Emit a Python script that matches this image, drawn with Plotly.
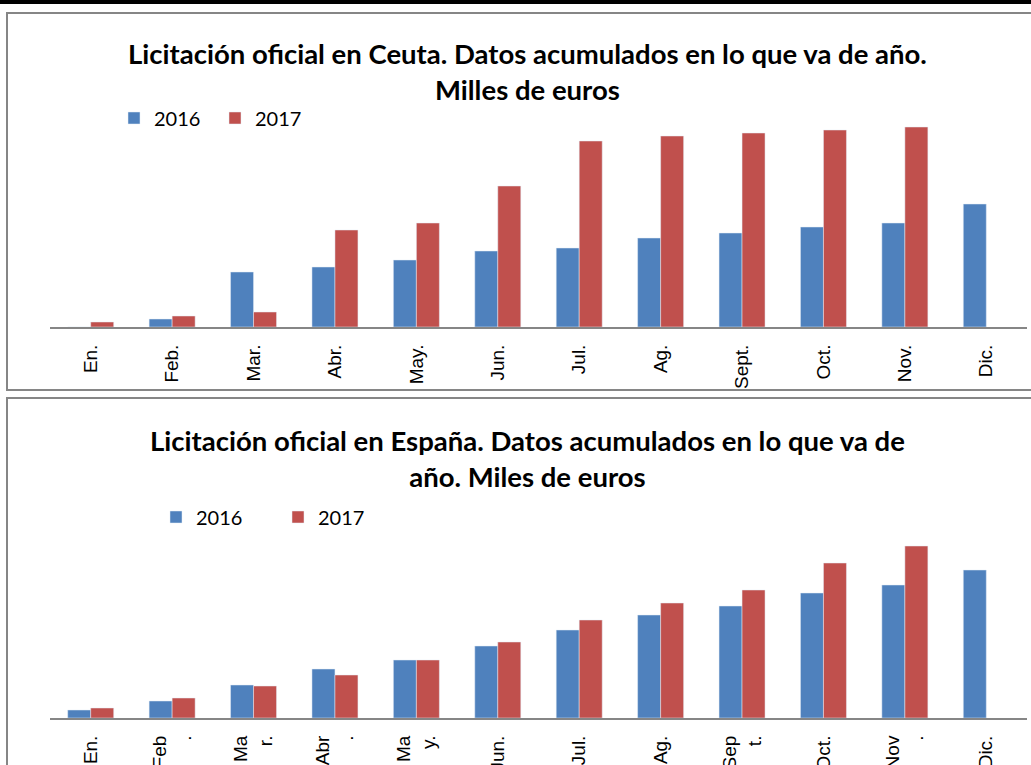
import plotly.graph_objects as go

months = ["En.", "Feb.", "Mar.", "Abr.", "May.", "Jun.", "Jul.", "Ag.", "Sept.", "Oct.", "Nov.", "Dic."]
esp_labels = ["En.", "Feb<br>.", "Ma<br>r.", "Abr<br>.", "Ma<br>y.", "Jun.", "Jul.", "Ag.", "Sep<br>t.", "Oct.", "Nov<br>.", "Dic."]

ceuta_2016 = [0, 8, 55, 60, 67, 76, 79, 89, 94, 100, 104, 123]
ceuta_2017 = [5, 11, 15, 97, 104, 141, 186, 191, 194, 197, 200, None]

esp_2016 = [8, 17, 33, 49, 58, 72, 88, 103, 112, 125, 133, 148]
esp_2017 = [10, 20, 32, 43, 58, 76, 98, 115, 128, 155, 172, None]

W, H = 1031, 765
BLUE = "#4F81BD"
RED = "#C0504D"
GRID = "#868686"


def py(p):
    return 1 - p / H


def px(p):
    return p / W


fig = go.Figure()
fig.add_trace(go.Bar(x=months, y=ceuta_2016, name="2016", marker_color=BLUE,
                     xaxis="x", yaxis="y", legend="legend"))
fig.add_trace(go.Bar(x=months, y=ceuta_2017, name="2017", marker_color=RED,
                     xaxis="x", yaxis="y", legend="legend"))
fig.add_trace(go.Bar(x=months, y=esp_2016, name="2016", marker_color=BLUE,
                     xaxis="x2", yaxis="y2", legend="legend2"))
fig.add_trace(go.Bar(x=months, y=esp_2017, name="2017", marker_color=RED,
                     xaxis="x2", yaxis="y2", legend="legend2"))

top_base, top_top = 327, 100
bot_base, bot_top = 718, 535

tick_font = dict(family="Liberation Sans, Arial", size=19, color="#000")
xcommon = dict(showline=True, linecolor=GRID, linewidth=2, tickangle=-90,
               tickfont=tick_font, ticks="", showgrid=False, zeroline=False,
               domain=[px(50), px(1027)], ticklabelstandoff=8, fixedrange=True,
               automargin=False)
ycommon = dict(visible=False, showgrid=False, zeroline=False, fixedrange=True,
               automargin=False)

legend_common = dict(orientation="h", font=dict(family="Lato", size=20, color="#000"),
                     bgcolor="rgba(0,0,0,0)", entrywidthmode="pixels",
                     xanchor="left", yanchor="middle", itemclick=False)

title_font = dict(family="Lato", size=27.5, color="#000")

fig.update_layout(
    width=W, height=H,
    margin=dict(l=0, r=0, t=0, b=0),
    paper_bgcolor="white", plot_bgcolor="white",
    barmode="group", bargap=0.435, bargroupgap=0,
    xaxis=dict(xcommon, anchor="y"),
    yaxis=dict(ycommon, domain=[py(top_base), py(top_top)], range=[0, top_base - top_top], anchor="x"),
    xaxis2=dict(xcommon, anchor="y2", tickmode="array", tickvals=months, ticktext=esp_labels),
    yaxis2=dict(ycommon, domain=[py(bot_base), py(bot_top)], range=[0, bot_base - bot_top], anchor="x2"),
    legend=dict(legend_common, x=px(114), y=py(118), entrywidth=56),
    legend2=dict(legend_common, x=px(156), y=py(517), entrywidth=77),
    showlegend=True,
    annotations=[
        dict(text="<b>Licitación oficial en Ceuta. Datos acumulados en lo que va de año.<br>Milles de euros</b>",
             x=px(527), y=py(71.5), xref="paper", yref="paper", showarrow=False,
             xanchor="center", yanchor="middle", font=title_font, align="center"),
        dict(text="<b>Licitación oficial en España. Datos acumulados en lo que va de<br>año. Miles de euros</b>",
             x=px(527), y=py(458.5), xref="paper", yref="paper", showarrow=False,
             xanchor="center", yanchor="middle", font=title_font, align="center"),
    ],
    shapes=[
        dict(type="line", xref="paper", yref="paper", x0=0, x1=1, y0=py(2), y1=py(2),
             line=dict(color="#000", width=4)),
        dict(type="rect", xref="paper", yref="paper", x0=px(7), x1=px(1040), y0=py(390), y1=py(13),
             line=dict(color=GRID, width=2)),
        dict(type="rect", xref="paper", yref="paper", x0=px(7), x1=px(1040), y0=py(800), y1=py(398),
             line=dict(color=GRID, width=2)),
    ],
)

fig.write_html(
    "out.html", config={"displayModeBar": False},
    post_script=("document.documentElement.style.margin='0';"
                 "document.body.style.margin='0';"))
